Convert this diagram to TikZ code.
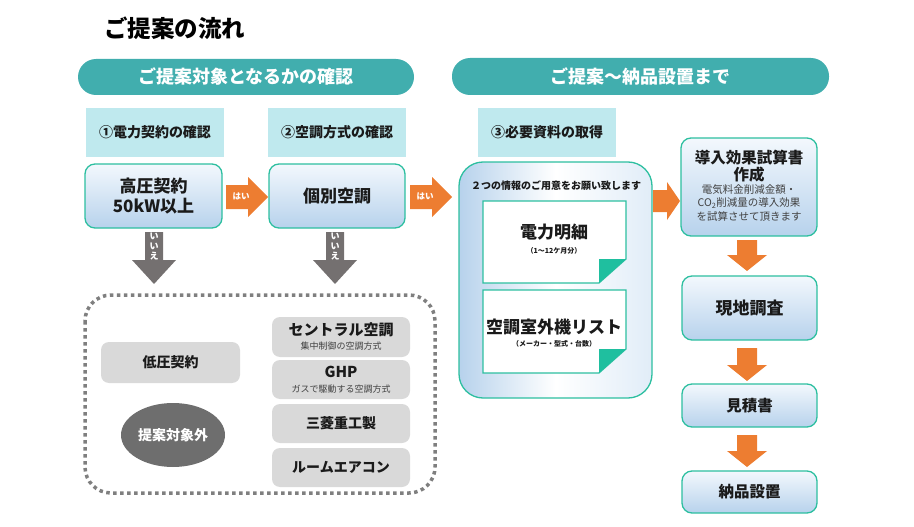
\documentclass[tikz,border=0pt]{standalone}
\usepackage{fontspec}
\setmainfont{Noto Sans CJK JP}
\usetikzlibrary{shapes.geometric}
\definecolor{bannerc}{HTML}{41AEAE}
\definecolor{stepc}{HTML}{BFE9EE}
\definecolor{tealb}{HTML}{2DBFA0}
\definecolor{gtop}{HTML}{F3F8FD}
\definecolor{gbot}{HTML}{B7D2EC}
\definecolor{oarrc}{HTML}{ED7D31}
\definecolor{garrc}{HTML}{747070}
\definecolor{dotc}{HTML}{7F7F7F}
\definecolor{grayboxc}{HTML}{D9D9D9}
\definecolor{ellc}{HTML}{6E6E6E}
\definecolor{foldc}{HTML}{1FBF9F}
\definecolor{txtc}{HTML}{1A1A1A}
\definecolor{subc}{HTML}{404040}
\newcommand\fs[1]{\fontsize{#1}{#1}\selectfont}
\newcommand\harrowshape[3]{\fill[oarrc] (#1,#3-12) -- (#2-20,#3-12) -- (#2-20,#3-20) -- (#2,#3) -- (#2-20,#3+20) -- (#2-20,#3+12) -- (#1,#3+12) -- cycle;}
\newcommand\varrowshape[4]{\fill[#4] (#1-10,#2) -- (#1+10,#2) -- (#1+10,#3-16) -- (#1+20,#3-16) -- (#1,#3) -- (#1-20,#3-16) -- (#1-10,#3-16) -- cycle;}
\begin{document}
\begin{tikzpicture}[x=1pt,y=-1pt,
  banner/.style={fill=bannerc, rounded corners=18, text=white, font=\bfseries\fs{18}, inner sep=0pt},
  stepbox/.style={fill=stepc, minimum width=138, minimum height=49, font=\bfseries\fs{14}, text=txtc, inner sep=0pt},
  gbox/.style={draw=tealb, line width=1.3, rounded corners=10, top color=gtop, bottom color=gbot, font=\bfseries\fs{17}, text=txtc, align=center, inner sep=0pt},
  graybox/.style={fill=grayboxc, rounded corners=8, minimum width=138, inner sep=0pt, font=\bfseries\fs{14}, text=txtc},
  paper/.style={fill=white, draw=tealb, line width=1.2},
  lbl/.style={inner sep=0pt, text=txtc}
]
\useasboundingbox (0,0) rectangle (914,527);

% title
\node[anchor=west, lbl, font=\bfseries\fs{23.5}, text=black] (title) at (104,28) {ご提案の流れ};

% banners
\node[banner, minimum width=336, minimum height=36] (ban1) at (246,77) {ご提案対象となるかの確認};
\node[banner, minimum width=377, minimum height=37] (ban2) at (640.5,76.5) {ご提案～納品設置まで};

% step headers
\node[stepbox] (s1) at (155,132.5) {①電力契約の確認};
\node[stepbox] (s2) at (337,132.5) {②空調方式の確認};
\node[stepbox] (s3) at (547,132.5) {③必要資料の取得};

% decision boxes
\node[gbox, minimum width=137, minimum height=64, font=\bfseries\fontsize{17}{20}\selectfont] (n1) at (153.5,196) {高圧契約\\50kW以上};
\node[gbox, minimum width=136, minimum height=64] (n2) at (337,196) {個別空調};

% big material box
\node[draw=tealb, line width=1.3, rounded corners=24, left color=gbot, right color=gtop!70!gbot, middle color=white, minimum width=193, minimum height=236, inner sep=0pt] (big) at (555.5,280) {};
\node[lbl, font=\bfseries\fs{10}] (info) at (556,186) {２つの情報のご用意をお願い致します};

% papers
\draw[paper] (483,201) -- (626,201) -- (626,259) -- (599,283) -- (483,283) -- cycle;
\fill[foldc] (599,259) -- (626,259) -- (599,283) -- cycle;
\draw[paper] (483,290) -- (626,290) -- (626,349) -- (599,373) -- (483,373) -- cycle;
\fill[foldc] (599,349) -- (626,349) -- (599,373) -- cycle;
\node[lbl, font=\bfseries\fs{17}] (p1t) at (554,232) {電力明細};
\node[lbl, font=\bfseries\fs{7}] (p1s) at (554,251) {（1～12ケ月分）};
\node[lbl, font=\bfseries\fs{17}] (p2t) at (554,327) {空調室外機リスト};
\node[lbl, font=\bfseries\fs{7}] (p2s) at (554,344) {（メーカー・型式・台数）};

% right column
\node[gbox, minimum width=136, minimum height=98] (r1) at (749,187) {};
\node[lbl, font=\bfseries\fs{15.5}] (r1a) at (749,158) {導入効果試算書};
\node[lbl, font=\bfseries\fs{15.5}] (r1b) at (749,175) {作成};
\node[lbl, font=\fs{10.5}, text=subc] (r1c) at (749,190) {電気料金削減金額・};
\node[lbl, font=\fs{10.5}, text=subc] (r1d) at (749,203) {CO\textsubscript{2}削減量の導入効果};
\node[lbl, font=\fs{10.5}, text=subc] (r1e) at (749,216) {を試算させて頂きます};
\node[gbox, minimum width=135, minimum height=64] (r2) at (749.5,308) {現地調査};
\node[gbox, minimum width=135, minimum height=43, font=\bfseries\fs{15.5}] (r3) at (749.5,405.5) {見積書};
\node[gbox, minimum width=135, minimum height=42, font=\bfseries\fs{15.5}] (r4) at (749.5,492) {納品設置};

% orange arrows
\harrowshape{226}{268}{197}
\node[lbl, text=white, font=\bfseries\fs{8.5}] (yes1) at (241,196) {はい};
\harrowshape{410}{452}{197}
\node[lbl, text=white, font=\bfseries\fs{8.5}] (yes2) at (425,196) {はい};
\fill[oarrc] (653,190) -- (667,190) -- (667,182) -- (680,201) -- (667,220) -- (667,212) -- (653,212) -- cycle;
\varrowshape{747}{240}{271}{oarrc}
\varrowshape{747}{348}{381}{oarrc}
\varrowshape{747}{435}{467}{oarrc}

% gray arrows
\fill[garrc] (145,232) -- (163,232) -- (163,260) -- (176,260) -- (154,284) -- (132,260) -- (145,260) -- cycle;
\node[lbl, text=white, font=\bfseries\fontsize{9}{10}\selectfont, align=center] (no1) at (154,247) {い\\い\\え};
\fill[garrc] (326,232) -- (344,232) -- (344,260) -- (357,260) -- (335,284) -- (313,260) -- (326,260) -- cycle;
\node[lbl, text=white, font=\bfseries\fontsize{9}{10}\selectfont, align=center] (no2) at (335,247) {い\\い\\え};

% excluded area
\draw[dotc, line width=3.5, dash pattern=on 3.5 off 3.5, rounded corners=26] (85,295) rectangle (435,493);
\node[graybox, minimum width=139, minimum height=41] (low) at (170.5,362.5) {低圧契約};
\node[ellipse, fill=ellc, minimum width=104, minimum height=64, inner sep=0pt, text=white, font=\bfseries\fs{14}] (out) at (173,435) {提案対象外};
\node[graybox, minimum height=40] (g1) at (341,337) {};
\node[lbl, font=\bfseries\fs{15}] (g1a) at (341,330) {セントラル空調};
\node[lbl, font=\fs{9}, text=subc] (g1b) at (341,346) {集中制御の空調方式};
\node[graybox, minimum height=39] (g2) at (341,379.5) {};
\node[lbl, font=\bfseries\fs{15}] (g2a) at (341,372) {GHP};
\node[lbl, font=\fs{9}, text=subc] (g2b) at (341,389) {ガスで駆動する空調方式};
\node[graybox, minimum height=39] (g3) at (341,423.5) {三菱重工製};
\node[graybox, minimum height=39] (g4) at (341,467.5) {ルームエアコン};
\end{tikzpicture}
\end{document}
